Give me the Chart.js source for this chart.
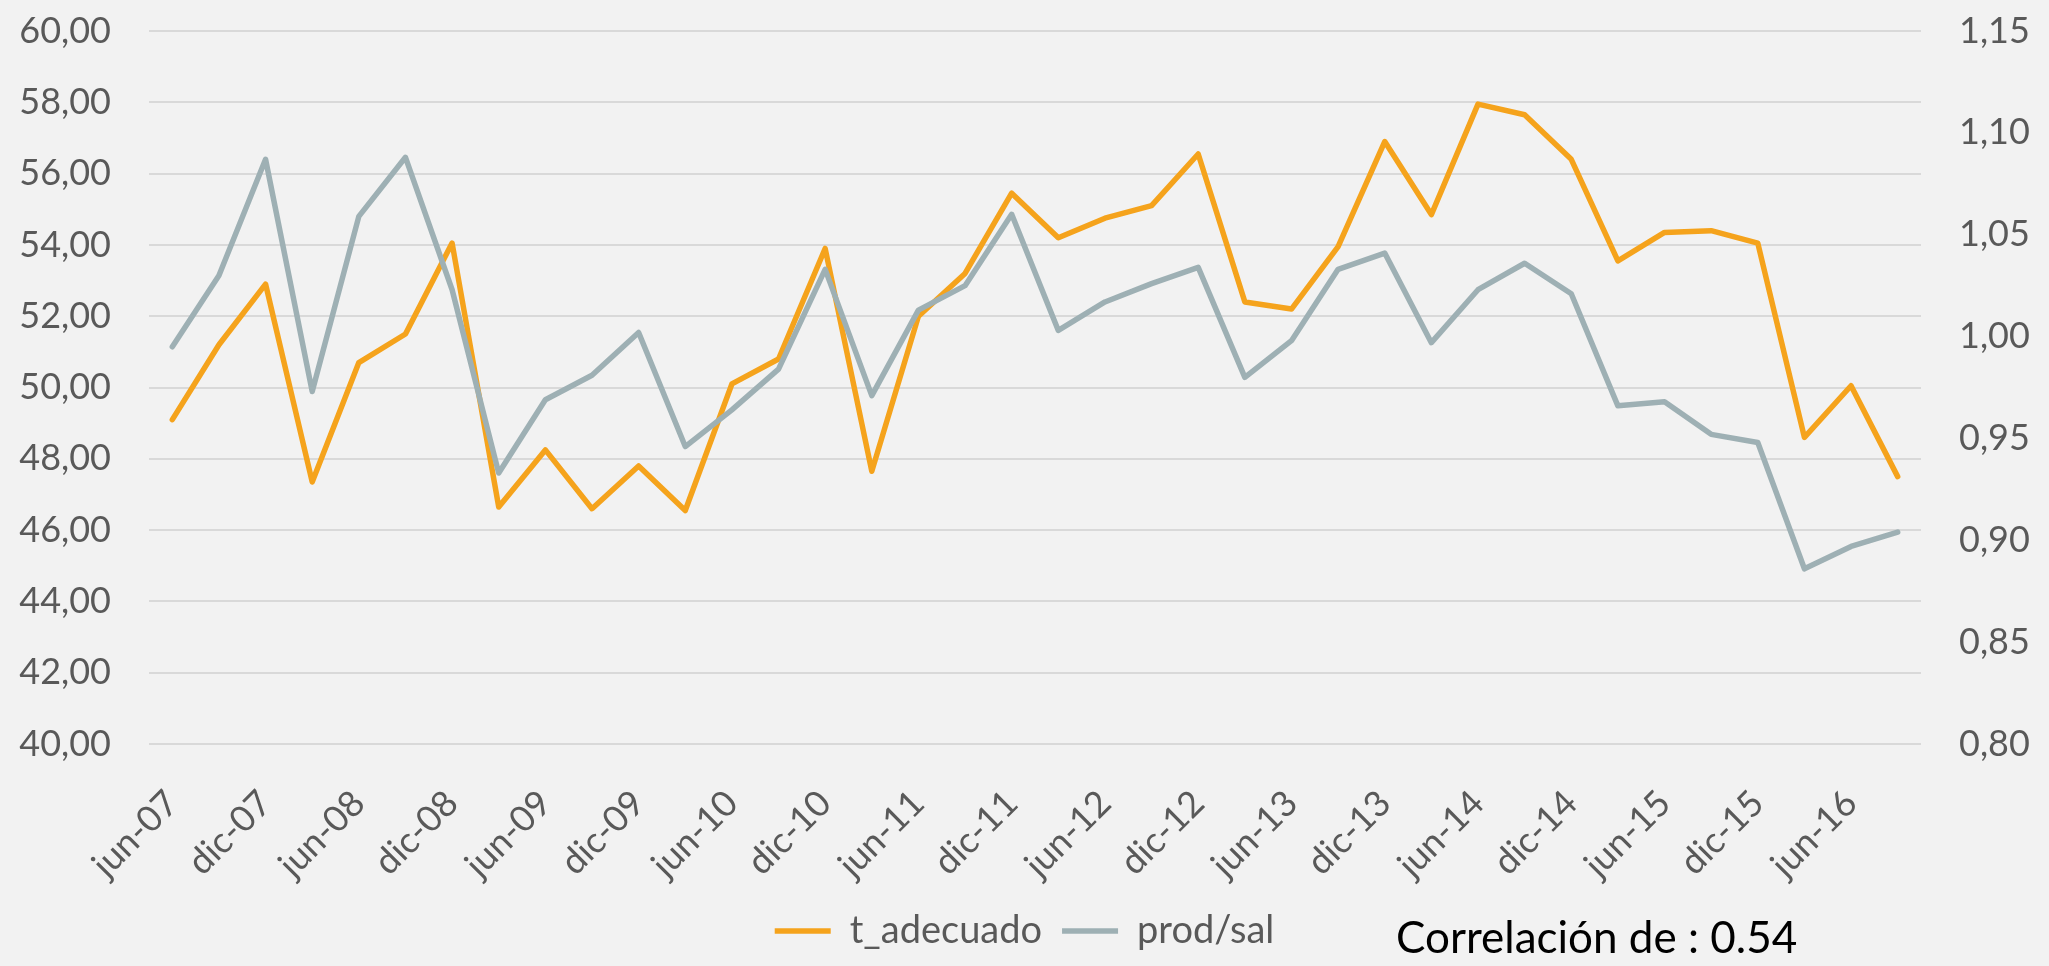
<!DOCTYPE html>
<html>
<head>
<meta charset="utf-8">
<script src="https://cdn.jsdelivr.net/npm/chart.js@4.4.1/dist/chart.umd.min.js"></script>
<style>
  html, body { margin: 0; padding: 0; background: #f2f2f2; }
  #wrap { position: relative; width: 2049px; height: 966px; }
  #corr {
    position: absolute; left: 1396px; top: 914px;
    font-family: Lato, sans-serif; font-size: 44px; line-height: 1;
    color: #000;
  }
</style>
</head>
<body>
<div id="wrap">
  <canvas id="grafico" width="2049" height="966"></canvas>
  <div id="corr">Correlación de : 0.54</div>
</div>
<script>
// trimestres jun-07 .. sep-16
const trimestres = [
  'jun-07','sep-07','dic-07','mar-08','jun-08','sep-08','dic-08','mar-09','jun-09','sep-09',
  'dic-09','mar-10','jun-10','sep-10','dic-10','mar-11','jun-11','sep-11','dic-11','mar-12',
  'jun-12','sep-12','dic-12','mar-13','jun-13','sep-13','dic-13','mar-14','jun-14','sep-14',
  'dic-14','mar-15','jun-15','sep-15','dic-15','mar-16','jun-16','sep-16'
];

const tAdecuado = [
  49.1, 51.2, 52.9, 47.35, 50.7, 51.5, 54.05, 46.65, 48.25, 46.6,
  47.8, 46.55, 50.1, 50.8, 53.9, 47.65, 52.0, 53.2, 55.45, 54.2,
  54.75, 55.1, 56.55, 52.4, 52.2, 53.95, 56.9, 54.85, 57.95, 57.65,
  56.4, 53.55, 54.35, 54.4, 54.05, 48.6, 50.05, 47.5
];

const prodSal = [
  0.995, 1.030, 1.087, 0.973, 1.059, 1.088, 1.023, 0.933, 0.969, 0.981,
  1.002, 0.946, 0.964, 0.984, 1.033, 0.971, 1.013, 1.025, 1.060, 1.003,
  1.017, 1.026, 1.034, 0.980, 0.998, 1.033, 1.041, 0.997, 1.023, 1.036,
  1.021, 0.966, 0.968, 0.952, 0.948, 0.886, 0.897, 0.904
];

const ejeIzq = { min: 40, max: 60, paso: 2 };
const ejeDer = { min: 0.80, max: 1.15, paso: 0.05 };

const gris = '#595959';
const fuente = { family: 'Lato', size: 36 };

function coma(v) {
  return v.toFixed(2).replace('.', ',');
}

// fija el ancho del eje y quita el relleno extra arriba/abajo
function ajustarEjeY(ancho) {
  return (s) => {
    s.width = ancho;
    s.paddingTop = 0;
    s.paddingBottom = 0;
  };
}

const ctx = document.getElementById('grafico').getContext('2d');
const chart = new Chart(ctx, {
  type: 'line',
  data: {
    labels: trimestres,
    datasets: [{
      label: 't_adecuado',
      data: tAdecuado,
      yAxisID: 'y',
      borderColor: '#f5a31c',
      backgroundColor: '#f5a31c',
      borderWidth: 5.5,
      pointRadius: 0,
      tension: 0,
      borderJoinStyle: 'round',
      borderCapStyle: 'round',
      order: 1
    }, {
      label: 'prod/sal',
      data: prodSal,
      yAxisID: 'y1',
      borderColor: '#9eb0b4',
      backgroundColor: '#9eb0b4',
      borderWidth: 5.5,
      pointRadius: 0,
      tension: 0,
      borderJoinStyle: 'round',
      borderCapStyle: 'round',
      order: 0
    }]
  },
  options: {
    responsive: false,
    animation: false,
    devicePixelRatio: 1,
    layout: { padding: { top: 31, left: 0, right: 0, bottom: 6 } },
    plugins: {
      tooltip: { enabled: false },
      legend: {
        position: 'bottom',
        labels: {
          usePointStyle: true,
          pointStyle: 'line',
          pointStyleWidth: 56,
          color: gris,
          font: { family: 'Lato', size: 38 },
          padding: 20,
          sort: (a, b) => a.datasetIndex - b.datasetIndex
        }
      }
    },
    scales: {
      x: {
        offset: true,
        grid: { display: false },
        border: { display: false },
        ticks: {
          autoSkip: false,
          maxRotation: 45,
          minRotation: 45,
          padding: 30,
          color: gris,
          font: fuente,
          callback: function (val, i) {
            return i % 2 === 0 ? this.getLabelForValue(val) : '';
          }
        },
        afterFit: (s) => { s.height = 148; }
      },
      y: {
        position: 'left',
        min: ejeIzq.min,
        max: ejeIzq.max,
        grid: { color: '#d9d9d9', lineWidth: 2, drawTicks: false },
        border: { display: false },
        ticks: {
          stepSize: ejeIzq.paso,
          padding: 38,
          color: gris,
          font: fuente,
          callback: (v) => coma(v)
        },
        afterFit: ajustarEjeY(149)
      },
      y1: {
        position: 'right',
        min: ejeDer.min,
        max: ejeDer.max,
        grid: { display: false, drawTicks: false },
        border: { display: false },
        ticks: {
          stepSize: ejeDer.paso,
          padding: 38,
          color: gris,
          font: fuente,
          callback: (v) => coma(v)
        },
        afterFit: ajustarEjeY(128)
      }
    }
  }
});
</script>
</body>
</html>
